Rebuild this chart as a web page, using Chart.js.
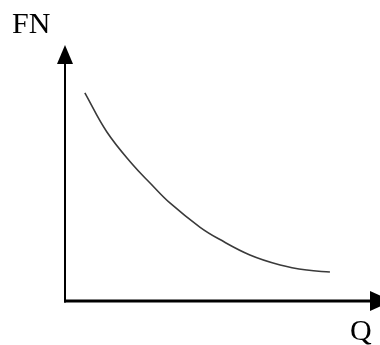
<!DOCTYPE html>
<html>
<head>
<meta charset="utf-8">
<script src="https://cdn.jsdelivr.net/npm/chart.js@4.4.0/dist/chart.umd.min.js"></script>
<style>
html,body{margin:0;padding:0;background:#fff;}
#wrap{width:380px;height:345px;}
</style>
</head>
<body>
<div id="wrap"><canvas id="c" width="380" height="345"></canvas></div>
<script>
// Curve (arbitrary units)
const qValues  = [0.63, 1.33, 2.16, 2.70, 3.33, 4.29, 4.92, 5.87, 6.83, 7.68, 8.41];
const fnValues = [8.13, 6.60, 5.31, 4.61, 3.83, 2.88, 2.40, 1.80, 1.41, 1.21, 1.13];
const yAxisLabel = 'FN';
const xAxisLabel = 'Q';

const points = qValues.map((q, i) => ({x: q, y: fnValues[i]}));

const arrowPlugin = {
  id: 'arrows',
  afterDraw(chart) {
    const ctx = chart.ctx;
    const xs = chart.scales.x, ys = chart.scales.y;
    const x0 = xs.getPixelForValue(0);
    const y0 = ys.getPixelForValue(0);
    const yTop = ys.getPixelForValue(10);
    const xEnd = xs.getPixelForValue(10);
    ctx.save();
    ctx.strokeStyle = '#000';
    ctx.fillStyle = '#000';
    // y axis
    ctx.lineWidth = 2;
    ctx.beginPath();
    ctx.moveTo(x0, y0 + 1.5);
    ctx.lineTo(x0, yTop + 10);
    ctx.stroke();
    // y arrowhead
    ctx.beginPath();
    ctx.moveTo(x0, yTop);
    ctx.lineTo(x0 - 8, yTop + 19);
    ctx.lineTo(x0 + 8, yTop + 19);
    ctx.closePath();
    ctx.fill();
    // x axis
    ctx.lineWidth = 3;
    ctx.beginPath();
    ctx.moveTo(x0 - 1, y0);
    ctx.lineTo(xEnd, y0);
    ctx.stroke();
    // x arrowhead
    ctx.beginPath();
    ctx.moveTo(xEnd + 12, y0);
    ctx.lineTo(xEnd - 10, y0 - 10);
    ctx.lineTo(xEnd - 10, y0 + 10);
    ctx.closePath();
    ctx.fill();
    // labels
    ctx.font = '30px "Liberation Serif", "Times New Roman", serif';
    ctx.textBaseline = 'alphabetic';
    ctx.textAlign = 'left';
    ctx.fillText(yAxisLabel, 12, 33);
    ctx.fillText(xAxisLabel, 350, 340);
    ctx.restore();
  }
};

new Chart(document.getElementById('c'), {
  type: 'scatter',
  data: {
    datasets: [{
      data: points,
      showLine: true,
      borderColor: '#3a3a3a',
      borderWidth: 1.6,
      pointRadius: 0,
      tension: 0.4,
      fill: false
    }]
  },
  options: {
    responsive: false,
    animation: false,
    devicePixelRatio: 1,
    layout: {padding: {left: 65, top: 45, right: 0, bottom: 44}},
    plugins: {legend: {display: false}, tooltip: {enabled: false}},
    scales: {
      x: {
        type: 'linear', min: 0, max: 10, display: true,
        ticks: {display: false}, grid: {display: false, drawTicks: false},
        border: {display: false}
      },
      y: {
        type: 'linear', min: 0, max: 10, display: true,
        ticks: {display: false}, grid: {display: false, drawTicks: false},
        border: {display: false}
      }
    }
  },
  plugins: [arrowPlugin]
});
</script>
</body>
</html>
